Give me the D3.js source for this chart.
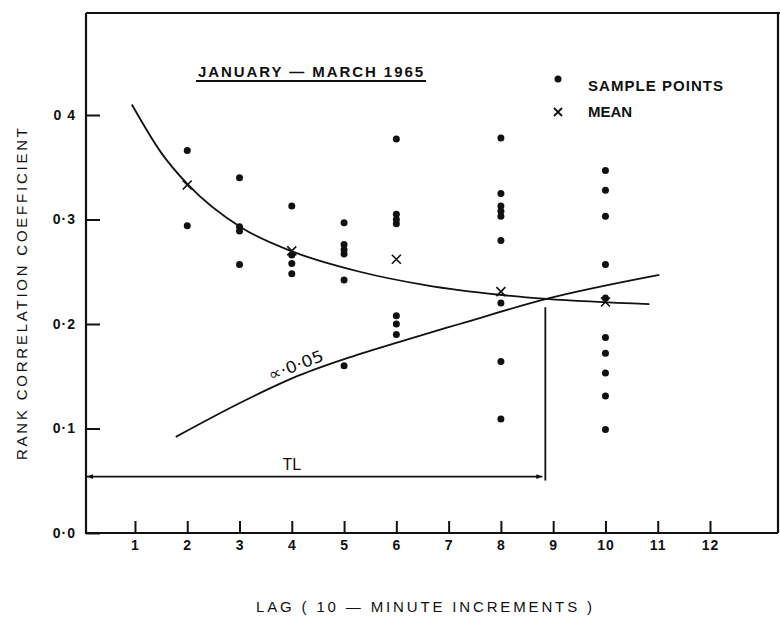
<!DOCTYPE html>
<html>
<head>
<meta charset="utf-8">
<script src="https://cdn.jsdelivr.net/npm/d3@7"></script>
<style>
    body { margin: 0; background: #fff; }
    svg text { font-family: "Liberation Sans", Arial, sans-serif; fill: #111; }
</style>
</head>
<body>
<svg id="chart" width="780" height="627"></svg>
<script>
// data

var sampleLag = [2, 2,
    3, 3, 3, 3,
    4, 4, 4, 4,
    5, 5, 5, 5, 5, 5,
    6, 6, 6, 6, 6, 6, 6,
    8, 8, 8, 8, 8, 8, 8, 8, 8,
    10, 10, 10, 10, 10, 10, 10, 10, 10, 10];
var sampleR = [0.366, 0.294,
    0.340, 0.293, 0.289, 0.257,
    0.313, 0.266, 0.258, 0.248,
    0.297, 0.276, 0.271, 0.267, 0.242, 0.160,
    0.377, 0.305, 0.300, 0.296, 0.208, 0.200, 0.190,
    0.378, 0.325, 0.313, 0.308, 0.303, 0.280, 0.220, 0.164, 0.109,
    0.347, 0.328, 0.303, 0.257, 0.225, 0.187, 0.172, 0.153, 0.131, 0.099];

var meanLag = [2, 4, 6, 8, 10];
var meanR = [0.333, 0.270, 0.262, 0.231, 0.221];

// fitted curve through the means
var fitLag = [0.94, 1.5, 2.0, 3.04, 4.03, 5.3, 6.58, 7.97, 8.87, 10.84];
var fitR = [0.410, 0.364, 0.334, 0.292, 0.269, 0.250, 0.237, 0.228, 0.224, 0.219];

// significance line (alpha = 0.05)
var sigLag = [1.78, 3.19, 4.15, 5.1, 6.06, 7.21, 8.87, 11.03];
var sigR = [0.092, 0.129, 0.151, 0.168, 0.183, 0.200, 0.224, 0.247];

// TL marker
var tlLag = 8.85, tlR = 0.054, tlTopR = 0.216;

var xTicks = [1, 2, 3, 4, 5, 6, 7, 8, 9, 10, 11, 12];
var yTicks = [0, 0.1, 0.2, 0.3, 0.4];
var yTickLabels = ["0·0", "0·1", "0·2", "0·3", "0 4"];


var svg = d3.select("svg#chart");

var frame = { left: 86, top: 13, right: 778, bottom: 533 };

var x = d3.scaleLinear().domain([0, 12]).range([82.7, 710]),
    y = d3.scaleLinear().domain([0, 0.4]).range([533, 115]);

// frame
svg.append("path")
    .attr("d", "M" + frame.left + "," + frame.top + "H" + (frame.right + 2) +
        "M" + frame.right + "," + frame.top + "V" + frame.bottom +
        "M" + frame.left + "," + frame.top + "V" + frame.bottom + "H" + frame.right)
    .attr("fill", "none")
    .attr("stroke", "#111")
    .attr("stroke-width", 2.2);

// axes
var xAxis = svg.append("g")
    .attr("transform", "translate(0," + frame.bottom + ")")
    .call(d3.axisBottom(x).tickValues(xTicks).tickSizeInner(-12).tickSizeOuter(0).tickPadding(7));

var yAxis = svg.append("g")
    .attr("transform", "translate(" + frame.left + ",0)")
    .call(d3.axisLeft(y).tickValues(yTicks).tickSizeInner(-14).tickSizeOuter(0).tickPadding(10)
        .tickFormat(function (d, i) { return yTickLabels[i]; }));

svg.selectAll("path.domain").remove();
svg.selectAll(".tick line").attr("stroke", "#111").attr("stroke-width", 2);
svg.selectAll(".tick text")
    .attr("font-size", null)
    .style("font-size", "14px")
    .style("font-weight", "bold")
    .style("letter-spacing", "1px")
    .style("font-family", "\"Liberation Sans\", Arial, sans-serif")
    .attr("fill", "#111");

// axis titles
svg.append("text")
    .attr("x", 256)
    .attr("y", 612)
    .attr("textLength", 336)
    .attr("lengthAdjust", "spacing")
    .style("font-size", "15px")
    .text("LAG   ( 10 — MINUTE   INCREMENTS )");

svg.append("text")
    .attr("transform", "translate(27,460) rotate(-90)")
    .attr("textLength", 332)
    .attr("lengthAdjust", "spacing")
    .style("font-size", "15px")
    .text("RANK   CORRELATION   COEFFICIENT");

// title
svg.append("text")
    .attr("x", 198)
    .attr("y", 77)
    .attr("textLength", 225)
    .attr("lengthAdjust", "spacing")
    .style("font-size", "15px")
    .style("font-weight", "bold")
    .text("JANUARY — MARCH  1965");

svg.append("line")
    .attr("x1", 196).attr("x2", 426)
    .attr("y1", 81).attr("y2", 81)
    .attr("stroke", "#111")
    .attr("stroke-width", 1.8);

// curves
var curve = d3.line()
    .x(function (d) { return x(d[0]); })
    .y(function (d) { return y(d[1]); })
    .curve(d3.curveMonotoneX);

svg.append("path")
    .datum(d3.zip(fitLag, fitR))
    .attr("d", curve)
    .attr("fill", "none")
    .attr("stroke", "#111")
    .attr("stroke-width", 1.8);

svg.append("path")
    .datum(d3.zip(sigLag, sigR))
    .attr("d", curve)
    .attr("fill", "none")
    .attr("stroke", "#111")
    .attr("stroke-width", 1.8);

svg.append("text")
    .attr("transform", "translate(" + x(4.15) + "," + y(0.151) + ") rotate(-21)")
    .attr("text-anchor", "middle")
    .attr("dy", -5)
    .attr("textLength", 58)
    .attr("lengthAdjust", "spacingAndGlyphs")
    .style("font-size", "16px")
    .style("font-family", "\"DejaVu Sans\", sans-serif")
    .text("∝·0·05");

// TL arrow
var defs = svg.append("defs");
defs.append("marker")
    .attr("id", "arrow")
    .attr("viewBox", "0 0 10 10")
    .attr("refX", 10).attr("refY", 5)
    .attr("markerWidth", 9).attr("markerHeight", 6)
    .attr("markerUnits", "userSpaceOnUse")
    .attr("orient", "auto-start-reverse")
    .append("path")
    .attr("d", "M0,1L10,5L0,9Z")
    .attr("fill", "#111");

svg.append("line")
    .attr("x1", frame.left + 1).attr("x2", x(tlLag) - 3)
    .attr("y1", y(tlR)).attr("y2", y(tlR))
    .attr("stroke", "#111")
    .attr("stroke-width", 1.8)
    .attr("marker-start", "url(#arrow)")
    .attr("marker-end", "url(#arrow)");

svg.append("line")
    .attr("x1", x(tlLag)).attr("x2", x(tlLag))
    .attr("y1", y(tlTopR)).attr("y2", y(tlR) + 4)
    .attr("stroke", "#111")
    .attr("stroke-width", 1.8);

svg.append("text")
    .attr("x", x(4.0))
    .attr("y", y(tlR) - 7)
    .attr("text-anchor", "middle")
    .style("font-size", "16px")
    .text("TL");

// sample points
svg.selectAll(".sample")
    .data(d3.zip(sampleLag, sampleR))
    .enter()
    .append("circle")
    .attr("class", "sample")
    .attr("cx", function (d) { return x(d[0]); })
    .attr("cy", function (d) { return y(d[1]); })
    .attr("r", 3.5)
    .attr("fill", "#111");

// means
var cross = "M-4.5,-4.5L4.5,4.5M-4.5,4.5L4.5,-4.5";

svg.selectAll(".mean")
    .data(d3.zip(meanLag, meanR))
    .enter()
    .append("path")
    .attr("class", "mean")
    .attr("transform", function (d) { return "translate(" + x(d[0]) + "," + y(d[1]) + ")"; })
    .attr("d", cross)
    .attr("stroke", "#111")
    .attr("stroke-width", 1.6)
    .attr("fill", "none");

// legend
var legend = svg.append("g").attr("transform", "translate(558,0)");

legend.append("circle")
    .attr("cx", 0).attr("cy", 79)
    .attr("r", 3.5)
    .attr("fill", "#111");

legend.append("path")
    .attr("transform", "translate(0,112)")
    .attr("d", "M-4,-4L4,4M-4,4L4,-4")
    .attr("stroke", "#111")
    .attr("stroke-width", 1.8);

legend.append("text")
    .attr("x", 30).attr("y", 91)
    .attr("textLength", 135)
    .attr("lengthAdjust", "spacing")
    .style("font-size", "15px")
    .style("font-weight", "bold")
    .text("SAMPLE  POINTS");

legend.append("text")
    .attr("x", 30).attr("y", 117)
    .attr("textLength", 44)
    .attr("lengthAdjust", "spacing")
    .style("font-size", "15px")
    .style("font-weight", "bold")
    .text("MEAN");

</script>
</body>
</html>
